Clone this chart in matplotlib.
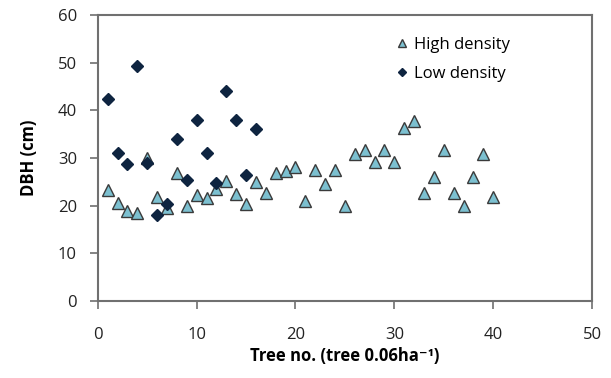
import matplotlib.pyplot as plt

plt.rcParams['font.family'] = ['Open Sans', 'DejaVu Sans']

# tree numbers and DBH (cm)
high_x = list(range(1, 41))
high_dbh = [23.3, 20.6, 18.9, 18.4, 30.0, 21.9, 19.6, 26.9, 20.0, 22.2,
            21.7, 23.4, 25.2, 22.4, 20.3, 25.0, 22.6, 26.9, 27.3, 28.2,
            21.0, 27.5, 24.5, 27.5, 20.0, 30.8, 31.7, 29.1, 31.7, 29.1,
            36.4, 37.7, 22.6, 26.1, 31.7, 22.6, 19.9, 26.1, 30.8, 21.9]

low_x = list(range(1, 17))
low_dbh = [42.4, 31.1, 28.7, 49.3, 29.0, 18.0, 20.3, 34.0, 25.3, 38.0,
           31.1, 24.7, 44.0, 38.0, 26.5, 36.0]

fig = plt.figure(figsize=(6.11, 3.78), dpi=100)
ax = fig.add_axes([0.160, 0.204, 0.809, 0.756])

ax.plot(high_x, high_dbh, ls='none', marker='^', ms=8.5, mfc='#7cc0d0',
        mec='#3a3a3a', mew=1.0, label='High density', zorder=3)
ax.plot(low_x, low_dbh, ls='none', marker='D', ms=6.5, mfc='#0e2440',
        mec='#0e2440', label='Low density', zorder=4)

ax.set_xlim(0, 50)
ax.set_ylim(0, 60)
ax.set_xticks(range(0, 51, 10))
ax.set_yticks(range(0, 61, 10))

for s in ax.spines.values():
    s.set_color('#707070')
    s.set_linewidth(1.5)
ax.tick_params(direction='out', length=6, width=1.2, color='#707070',
               labelsize=12, pad=9, labelcolor='#222222')
ax.tick_params(axis='x', pad=13)

ax.set_xlabel('Tree no. (tree 0.06ha⁻¹)', fontsize=12,
              fontweight='bold', labelpad=3)
ax.set_ylabel('DBH (cm)', fontsize=12, fontweight='bold', labelpad=14)

ax.legend(loc='upper left', bbox_to_anchor=(0.575, 0.975), frameon=False,
          fontsize=12, markerscale=0.65, handlelength=0.6,
          handletextpad=0.45, labelspacing=0.75)

fig.savefig('out.png', dpi=100)
